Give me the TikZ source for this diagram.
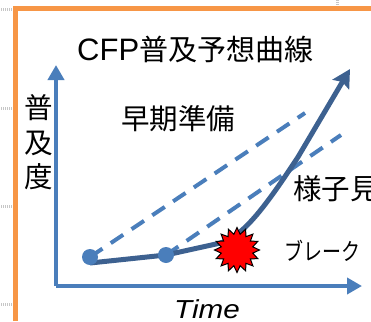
\documentclass[tikz,border=0pt]{standalone}
\usepackage{fontspec}
\setmainfont{Liberation Sans}
\newfontfamily\jpfont{Noto Sans CJK JP}
\usetikzlibrary{shapes.geometric,arrows.meta,backgrounds}
\definecolor{axisblue}{HTML}{4A7EBB}
\definecolor{curveblue}{HTML}{3D6190}
\definecolor{frameorange}{HTML}{F79646}

\begin{document}
\begin{tikzpicture}
  [x=1pt,y=-1pt,
  axis/.style={draw=axisblue,line width=4pt,-{Triangle[length=15pt,width=16pt]}},
  guide/.style={draw=axisblue,line width=4pt,dash pattern=on 15pt off 10pt},
  curve/.style={draw=curveblue,line width=5pt,line join=round,-{Stealth[length=18pt,width=19pt,inset=3pt]}},
  dotmark/.style={circle,fill=axisblue,inner sep=0pt,minimum size=16pt},
  burst/.style={star,star points=16,star point ratio=1.4,draw=black,line width=1pt,fill=red,inner sep=0pt,minimum size=45pt},
  label/.style={inner sep=0pt,font=\jpfont\fontsize{28.5}{30}\selectfont},
  ruler/.style={draw=gray!45,line width=3pt,dash pattern=on 1pt off 1pt}
  ]
  \useasboundingbox (0,0) rectangle (371,321);
  \clip (0,0) rectangle (371,321);

  % frame
  \coordinate (framebottom) at (15.5,321);
  \coordinate (framecorner) at (15.5,8.5);
  \coordinate (frameright) at (371,8.5);
  \draw[frameorange,line width=5pt] (framebottom) -- (framecorner) -- (frameright);
  \foreach \y in {10,108,206,304}
    \draw[ruler] (1,\y) -- (12,\y);
  \draw[ruler] (337,0) -- (337,6);

  % axes
  \coordinate (origin) at (56,286);
  \coordinate (ytip) at (56,65);
  \coordinate (xtip) at (362,286);
  \draw[axis] (origin) -- (ytip);
  \draw[axis] (origin) -- (xtip);

  % points
  \node[dotmark] (first) at (90,257) {};
  \node[dotmark] (second) at (166,255) {};

  \coordinate (firstend) at (305,113);
  \coordinate (secondend) at (341,135);
  \coordinate (curvestart) at (90,263);
  \coordinate (curvetip) at (350,69);
  \begin{pgfonlayer}{background}
    \draw[guide] (first.center) -- (firstend);
    \draw[guide] (second.center) -- (secondend);
    \draw[curve] (curvestart) -- (second.center) -- (216,244)
      .. controls (240,240) and (262,212) .. (298,157) -- (curvetip);
  \end{pgfonlayer}

  \node[burst] (breakmark) at (237,250) {};

  % labels
  \node[label,anchor=west,font=\jpfont\fontsize{29}{30}\selectfont] (title) at (77,49) {{\fontspec{Liberation Sans}\fontsize{31}{32}\selectfont CFP}普及予想曲線};
  \node[label] (early) at (178,119) {早期準備};
  \node[label,anchor=west] (wait) at (293,189) {様子見};
  \node[label] (ylabel1) at (39,108) {普};
  \node[label] (ylabel2) at (39,143) {及};
  \node[label] (ylabel3) at (39,177) {度};
  \node[label,font=\jpfont\fontsize{19}{20}\selectfont,transform shape,yscale=1.25] (breaklabel) at (322,251) {ブレーク};
  \node[inner sep=0pt,font=\itshape\fontsize{26}{27}\selectfont,transform shape,xscale=1.14] (time) at (207,309) {Time};
\end{tikzpicture}
\end{document}
